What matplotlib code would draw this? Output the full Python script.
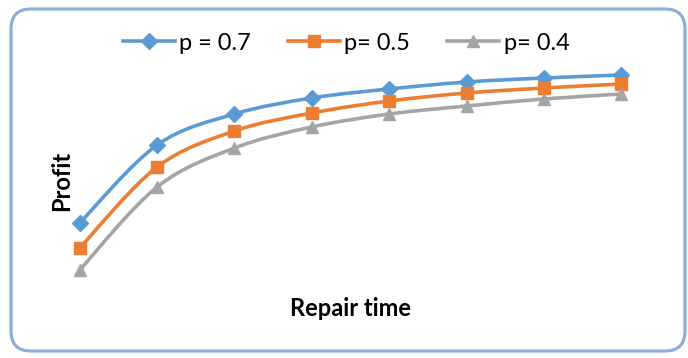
import matplotlib
matplotlib.use('Agg')
import matplotlib.pyplot as plt
import numpy as np
from matplotlib.path import Path
from matplotlib.patches import PathPatch, FancyBboxPatch
from matplotlib.lines import Line2D

# %% Données (valeurs relatives, pas d'échelle sur le graphique)

temps = [1, 2, 3, 4, 5, 6, 7, 8]
series = ['p = 0.7', 'p= 0.5', 'p= 0.4']
profit_07 = [77, 155, 186, 202, 211, 218, 222, 225]
profit_05 = [52, 133, 169, 187, 199, 207, 212, 216]
profit_04 = [30, 113, 152, 173, 186, 194, 201, 206]

couleurs = ['#5B9BD5', '#ED7D31', '#A5A5A5']
marqueurs = ['D', 's', '^']
tailles = [8, 9, 9]

plt.rcParams['font.family'] = ['Lato', 'DejaVu Sans']


def chemin_lisse(x, y, k=1/6):
    """Courbe lissée type Excel (Bézier cubique passant par les points)"""
    x = np.asarray(x, float)
    y = np.asarray(y, float)
    n = len(x)
    verts = [(x[0], y[0])]
    codes = [Path.MOVETO]
    for i in range(n - 1):
        i0 = max(i - 1, 0)
        i3 = min(i + 2, n - 1)
        c1 = (x[i] + (x[i+1] - x[i0]) * k, y[i] + (y[i+1] - y[i0]) * k)
        c2 = (x[i+1] - (x[i3] - x[i]) * k, y[i+1] - (y[i3] - y[i]) * k)
        verts += [c1, c2, (x[i+1], y[i+1])]
        codes += [Path.CURVE4] * 3
    return Path(verts, codes)


fig = plt.figure(figsize=(6.88, 3.58), dpi=100)

# Cadre arrondi
bg = fig.add_axes([0, 0, 1, 1])
bg.set_xlim(0, 688)
bg.set_ylim(358, 0)
bg.axis('off')
cadre = FancyBboxPatch((11, 9), 674, 342, boxstyle='round,pad=0,rounding_size=20',
                       fc='white', ec='#8DAFD7', lw=2.3)
bg.add_patch(cadre)

# Zone de tracé
ax = fig.add_axes([41/688, (358-290)/358, (660-41)/688, (290-60)/358])
ax.set_xlim(0.5, 8.5)
ax.set_ylim(10, 240)
ax.patch.set_alpha(0)
for s in ax.spines.values():
    s.set_visible(False)
ax.set_xticks([])
ax.set_yticks([])

handles = []
for y, c, m, t, nom in zip([profit_07, profit_05, profit_04], couleurs, marqueurs, tailles, series):
    ax.add_patch(PathPatch(chemin_lisse(temps, y), fc='none', ec=c, lw=2.6,
                           capstyle='round', joinstyle='round'))
    ax.plot(temps, y, ls='none', marker=m, ms=t, color=c, mec=c, zorder=3)
    handles.append(Line2D([], [], color=c, lw=2.6, marker=m, ms=t, mec=c))

fig.legend(handles, series, loc='center', bbox_to_anchor=(346/688, 1 - 43/358),
           ncol=3, frameon=False, fontsize=17, handlelength=2.2,
           handletextpad=0.2, columnspacing=1.55)

fig.text(62/688, 1 - 181/358, 'Profit', rotation=90, ha='center', va='center',
         fontsize=17, fontweight='bold')
fig.text(350/688, 1 - 308/358, 'Repair time', ha='center', va='center',
         fontsize=17, fontweight='bold')

plt.savefig('out.png', dpi=100)
